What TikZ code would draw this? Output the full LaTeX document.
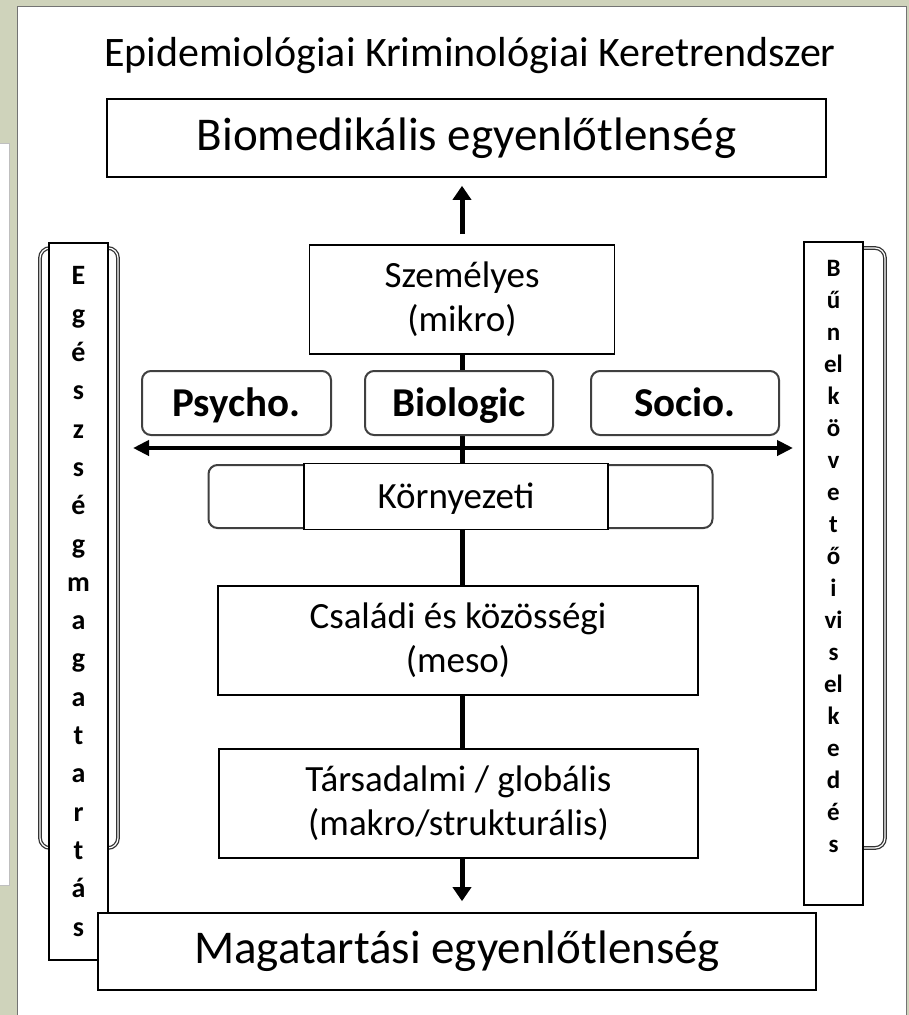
\documentclass[tikz,border=0pt]{standalone}
\usepackage{fontspec}
\setmainfont{Carlito}
\usetikzlibrary{arrows.meta}
\definecolor{slidegreen}{HTML}{CFD3BB}
\tikzset{ lvl/.style = { rectangle % level box
        , draw
        , line width = 1.6pt
        , fill = white
        , align = center
        , font = \fontsize{37}{44}\selectfont
        }
        , pill/.style = { rectangle % factor box
        , draw = black!75
        , line width = 2pt
        , rounded corners = 9pt
        , fill = white
        , minimum height = 64pt
        , text height = 26pt
        , text depth = 0pt
        , font = \fontsize{41}{44}\selectfont\bfseries
        }
        , col/.style = { rectangle % letter column
        , draw
        , line width = 1.4pt
        , fill = white
        , align = center
        , minimum width = 59pt
        }
        , brack/.style = { rectangle % bracket behind column
        , draw = black!80
        , line width = 1.3pt
        , double = white
        , double distance = 1.2pt
        , rounded corners = 10pt
        }
        }

\begin{document}
\begin{tikzpicture}[x=1pt, y=-1pt,
        big_arrow/.style={line width=5pt, -{Triangle[width=18pt,length=14pt]}},
        axis_style/.style={line width=4pt, {Triangle[width=15pt,length=16pt]}-{Triangle[width=15pt,length=16pt]}},
        spine_style/.style={line width=5pt},
        title_style/.style={font=\fontsize{42}{46}\selectfont},
        big_style/.style={font=\fontsize{47}{50}\selectfont}]
        \useasboundingbox (0,0) rectangle (909,1015);
        \fill [slidegreen] (0,0) rectangle (909,1015);
        \draw [gray!50, fill=white] (-2,143) rectangle (9,885);
        \draw [black!55, fill=white] (17,6) rectangle (906,1020);

        \node [title_style] (title) at (470,56) {Epidemiológiai Kriminológiai Keretrendszer};
        \node [lvl,big_style,minimum width=719pt,minimum height=78pt] (biomed) at (466.5,138) {Biomedikális egyenlőtlenség};

        \node [brack,minimum width=78pt,minimum height=600pt] (lbrack) at (79,548) {};
        \node [brack,minimum width=70pt,minimum height=600pt] (rbrack) at (850,548) {};
        \node [col,minimum height=717pt,font=\fontsize{28}{38.3}\selectfont\bfseries] (egeszseg) at (78.5,601.5)
            {E\\g\\é\\s\\z\\s\\é\\g\\m\\a\\g\\a\\t\\a\\r\\t\\á\\s};
        \node [col,minimum height=663pt,font=\fontsize{25}{32}\selectfont\bfseries] (bunelk) at (833.5,573.5)
            {B\\ű\\n\\el\\k\\ö\\v\\e\\t\\ő\\i\\vi\\s\\el\\k\\e\\d\\é\\s\\[2pt]\mbox{}};

        \node [lvl,minimum width=305pt,minimum height=109pt] (szemelyes) at (462,299.5) {Személyes\\(mikro)};
        \node [lvl,minimum width=480pt,minimum height=109pt] (csaladi) at (458,640.5) {Családi és közösségi\\(meso)};
        \node [lvl,minimum width=479pt,minimum height=109pt] (tarsadalmi) at (458.5,803.5) {Társadalmi / globális\\(makro/strukturális)};
        \node [lvl,big_style,minimum width=718pt,minimum height=77pt] (magatartas) at (457,951.5) {Magatartási egyenlőtlenség};

        \draw [spine_style] (szemelyes.south) -- (szemelyes.south |- csaladi.north);
        \draw [spine_style] (szemelyes.south |- csaladi.south) -- (szemelyes.south |- tarsadalmi.north);
        \draw [big_arrow] ([yshift=10pt]szemelyes.north) -- ([yshift=-8pt]szemelyes.north |- biomed.south);
        \draw [big_arrow] (szemelyes.south |- tarsadalmi.south) -- ([yshift=11pt]szemelyes.south |- magatartas.north);

        \coordinate (axis_w) at (133,448);
        \coordinate (axis_e) at (793,448);
        \draw [axis_style] (axis_w) -- (axis_e);

        \node [pill,minimum width=189pt] (psycho) at (236.5,403) {Psycho.};
        \node [pill,minimum width=188pt] (biologic) at (459,403) {Biologic};
        \node [pill,minimum width=188pt] (socio) at (685,403) {Socio.};
        \node [pill,minimum width=504pt,minimum height=63pt] (kornyout) at (460.5,496.5) {};
        \node [lvl,minimum width=304pt,minimum height=66pt,text height=23pt,text depth=0pt] (korny) at (456,496.5) {Környezeti};
\end{tikzpicture}
\end{document}
